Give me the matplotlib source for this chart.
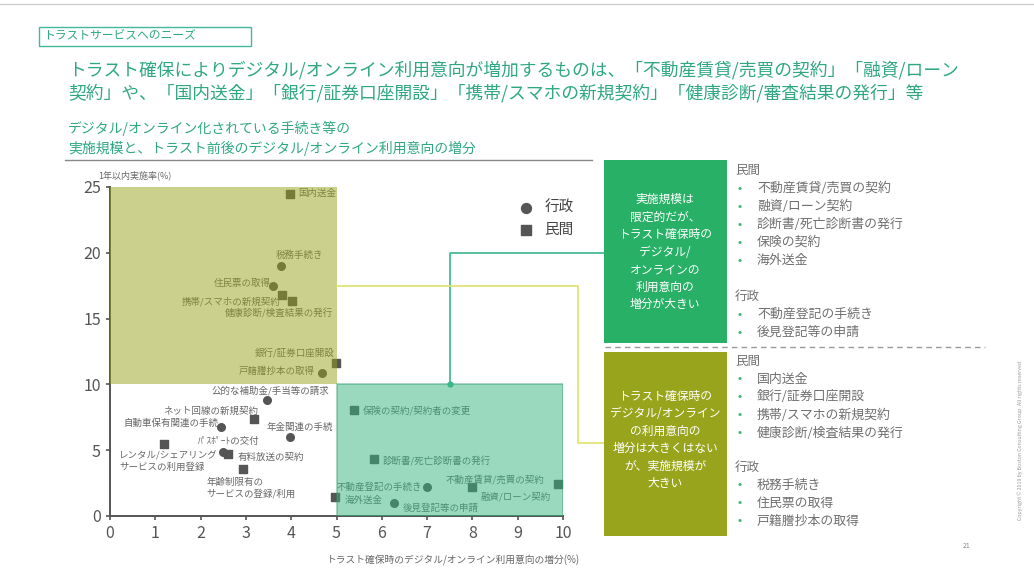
import matplotlib.pyplot as plt
from matplotlib.patches import Rectangle
from matplotlib.lines import Line2D

plt.rcParams['font.family'] = ['Noto Sans CJK JP', 'DejaVu Sans']

# 行政の手続き
gov_names = ["税務手続き", "住民票の取得", "戸籍謄抄本の取得", "公的な補助金/手当等の請求",
             "自動車保有関連の手続", "年金関連の手続", "ﾊﾟｽﾎﾟｰﾄの交付",
             "不動産登記の手続き", "後見登記等の申請"]
gov_x = [3.77, 3.6, 4.68, 3.47, 2.45, 3.97, 2.5, 7.0, 6.27]
gov_y = [19.0, 17.5, 10.9, 8.8, 6.8, 6.0, 4.9, 2.2, 1.0]

# 民間の手続き
priv_names = ["国内送金", "携帯/スマホの新規契約", "健康診断/検査結果の発行", "銀行/証券口座開設",
              "ネット回線の新規契約", "有料放送の契約", "レンタル/シェアリング\nサービスの利用登録",
              "年齢制限有の\nサービスの登録/利用", "海外送金", "保険の契約/契約者の変更",
              "診断書/死亡診断書の発行", "融資/ローン契約", "不動産賃貸/売買の契約"]
priv_x = [3.97, 3.8, 4.02, 4.99, 3.18, 2.6, 1.2, 2.93, 4.97, 5.39, 5.83, 7.99, 9.89]
priv_y = [24.5, 16.8, 16.3, 11.6, 7.4, 4.7, 5.5, 3.6, 1.45, 8.05, 4.3, 2.2, 2.4]

x_ticks = [0, 1, 2, 3, 4, 5, 6, 7, 8, 9, 10]
y_ticks = [0, 5, 10, 15, 20, 25]

# 右側の一覧
upper_priv = ["不動産賃貸/売買の契約", "融資/ローン契約", "診断書/死亡診断書の発行", "保険の契約", "海外送金"]
upper_gov = ["不動産登記の手続き", "後見登記等の申請"]
lower_priv = ["国内送金", "銀行/証券口座開設", "携帯/スマホの新規契約", "健康診断/検査結果の発行"]
lower_gov = ["税務手続き", "住民票の取得", "戸籍謄抄本の取得"]

# ラベルの配置 (ピクセルオフセット, 揃え)
gov_pos = [(19, 11, 'center'), (-2, 2, 'right'), (-7, 1, 'right'), (3, 10, 'center'),
           (-3, 3, 'right'), (10, 10, 'center'), (6, 10, 'center'), (-5, 0, 'right'), (9, -5, 'left')]
priv_pos = [(8, 0, 'left'), (-2, -7, 'right'), (41, -12, 'right'), (-1, 10, 'right'),
            (4, 7, 'right'), (10, -3, 'left'), (-45, -18, 'left'), (-36, -20, 'left'),
            (10, -3, 'left'), (9, 0, 'left'), (9, -2, 'left'), (8, -10, 'left'), (-14, 5, 'right')]

W, H = 1034, 572
TEAL = '#2fa882'
GRAY = '#666666'
LIST_GRAY = '#707070'


def fx(x):
    return x / W


def fy(y):
    return 1 - y / H


fig = plt.figure(figsize=(W / 100, H / 100), dpi=100)
fig.patch.set_facecolor('white')

# 見出し
fig.text(fx(43), fy(36), "トラストサービスへのニーズ", fontsize=8.5, color=TEAL, va='center')
fig.add_artist(Rectangle((fx(39), fy(46)), 212 / W, 19 / H, transform=fig.transFigure,
                         fill=False, ec='#45b89a', lw=1))
fig.text(fx(68), fy(70), "トラスト確保によりデジタル/オンライン利用意向が増加するものは、「不動産賃貸/売買の契約」「融資/ローン",
         fontsize=12.8, color=TEAL, va='center')
fig.text(fx(68), fy(93), "契約」や、「国内送金」「銀行/証券口座開設」「携帯/スマホの新規契約」「健康診断/審査結果の発行」等",
         fontsize=12.8, color=TEAL, va='center')
fig.text(fx(68), fy(128), "デジタル/オンライン化されている手続き等の", fontsize=10, color=TEAL, va='center')
fig.text(fx(68), fy(148), "実施規模と、トラスト前後のデジタル/オンライン利用意向の増分", fontsize=10, color=TEAL, va='center')
fig.add_artist(Line2D([fx(65), fx(592)], [fy(160), fy(160)], color='#888888', lw=1))

# 散布図
ax = fig.add_axes([fx(110), fy(516), (563 - 110) / W, (516 - 187) / H])
ax.set_xlim(0, 10)
ax.set_ylim(0, 25)
ax.set_xticks(x_ticks)
ax.set_yticks(y_ticks)
ax.tick_params(labelsize=11.5, colors='#555555', length=3, width=1.2)
for s in ['top', 'right']:
    ax.spines[s].set_visible(False)
for s in ['left', 'bottom']:
    ax.spines[s].set_color('#555555')
    ax.spines[s].set_linewidth(1.4)
ax.patch.set_alpha(0)

g = ax.scatter(gov_x, gov_y, marker='o', s=30, color='#555555', zorder=3, label='行政')
p = ax.scatter(priv_x, priv_y, marker='s', s=30, color='#555555', zorder=3, label='民間')

for name, x, y, (dx, dy, ha) in zip(gov_names, gov_x, gov_y, gov_pos):
    ax.annotate(name, (x, y), xytext=(dx, dy), textcoords='offset pixels', ha=ha, va='center',
                fontsize=6.8, color=GRAY, zorder=3)
for name, x, y, (dx, dy, ha) in zip(priv_names, priv_x, priv_y, priv_pos):
    ax.annotate(name, (x, y), xytext=(dx, dy), textcoords='offset pixels', ha=ha, va='center',
                fontsize=6.8, color=GRAY, zorder=3, multialignment='left')

# 領域の網掛け
ax.add_patch(Rectangle((0, 10), 5, 15, fc='#98a41a', alpha=0.5, ec='none', zorder=4))
ax.add_patch(Rectangle((5, 0), 5, 10, fc='#36b57f', alpha=0.5, ec='#2e9e6e', lw=1.2, zorder=4))

# 接続線
ax.plot([7.5, 7.5, 10.9], [10, 20, 20], color='#3cb58a', lw=1.2, clip_on=False, zorder=5)
ax.plot([7.5], [10], 'o', ms=3.5, color='#3cb58a', clip_on=False, zorder=5)
ax.plot([5, 10.33, 10.33, 10.9], [17.5, 17.5, 5.55, 5.55], color='#dde36a', lw=1.2,
        clip_on=False, zorder=5)

ax.legend(handles=[g, p], loc='upper left', bbox_to_anchor=(fx(498), fy(188)),
          bbox_transform=fig.transFigure, frameon=False, fontsize=10.5,
          handletextpad=0.3, labelspacing=0.55, markerscale=1.3, labelcolor='#444444')

fig.text(fx(98), fy(175), "1年以内実施率(%)", fontsize=6.5, color=GRAY, va='center')
fig.text(fx(453), fy(560), "トラスト確保時のデジタル/オンライン利用意向の増分(%)", fontsize=7,
         color=GRAY, ha='center', va='center')

# 右側のボックス
fig.add_artist(Rectangle((fx(604), fy(343)), 123 / W, 183 / H, transform=fig.transFigure,
                         fc='#27b066', ec='none'))
fig.add_artist(Rectangle((fx(604), fy(536)), 123 / W, 184 / H, transform=fig.transFigure,
                         fc='#98a51c', ec='none'))
fig.text(fx(665), fy(252), "実施規模は\n限定的だが、\nトラスト確保時の\nデジタル/\nオンラインの\n利用意向の\n増分が大きい",
         fontsize=8.5, color='white', ha='center', va='center', linespacing=1.45)
fig.text(fx(665), fy(440), "トラスト確保時の\nデジタル/オンライン\nの利用意向の\n増分は大きくはない\nが、実施規模が\n大きい",
         fontsize=8.5, color='white', ha='center', va='center', linespacing=1.45)
fig.add_artist(Line2D([fx(605), fx(985)], [fy(347), fy(347)], color='#999999', lw=1,
                      ls=(0, (4, 3))))


def draw_list(header, items, y0):
    fig.text(fx(735), fy(y0), header, fontsize=9, color=LIST_GRAY, va='center')
    y = y0 + 18
    for item in items:
        fig.text(fx(740), fy(y), "•", fontsize=9, color='#3cb371', ha='center', va='center')
        fig.text(fx(757), fy(y), item, fontsize=9.3, color=LIST_GRAY, va='center')
        y += 18


draw_list("民間", upper_priv, 170)
draw_list("行政", upper_gov, 296)
draw_list("民間", lower_priv, 361)
draw_list("行政", lower_gov, 467)

fig.text(fx(967), fy(546), "21", fontsize=5, color='#888888', ha='center', va='center')
fig.text(fx(1020), fy(440), "Copyright © 2019 by Boston Consulting Group. All rights reserved.",
         fontsize=3.8, color='#999999', rotation=90, ha='center', va='center')

# 枠線
fig.add_artist(Line2D([fx(0), fx(1034)], [fy(4), fy(4)], color='#cccccc', lw=1))

fig.savefig('out.png', dpi=100)
